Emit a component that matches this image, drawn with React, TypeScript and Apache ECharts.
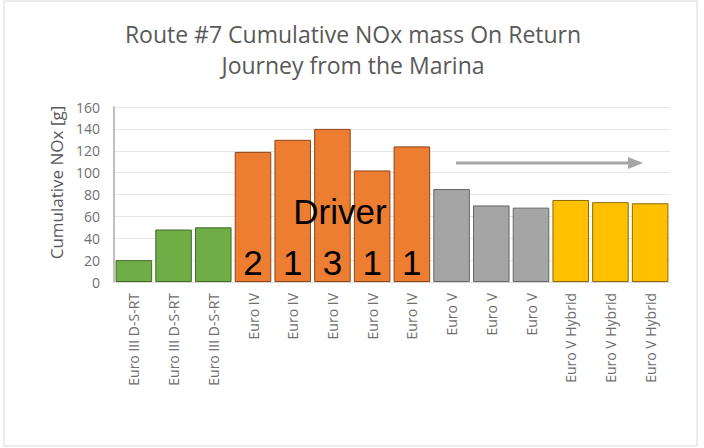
import React, { useEffect, useRef } from "react";
import * as echarts from "echarts";

const categories = [
  "Euro III D-S-RT", "Euro III D-S-RT", "Euro III D-S-RT",
  "Euro IV", "Euro IV", "Euro IV", "Euro IV", "Euro IV",
  "Euro V", "Euro V", "Euro V",
  "Euro V Hybrid", "Euro V Hybrid", "Euro V Hybrid",
];
const values = [20, 48, 50, 119, 130, 140, 102, 124, 85, 70, 68, 75, 73, 72];
const drivers = ["", "", "", "2", "1", "3", "1", "1", "", "", "", "", "", ""];
const yTicks = [0, 20, 40, 60, 80, 100, 120, 140, 160];
const titleLines = ["Route #7 Cumulative NOx mass On Return", "Journey from the Marina"];
const yAxisName = "Cumulative NOx [g]";
const annotation = "Driver";

const fills: Record<string, string> = {
  "Euro III D-S-RT": "#70ad47",
  "Euro IV": "#ed7d31",
  "Euro V": "#a5a5a5",
  "Euro V Hybrid": "#ffc000",
};
const borders: Record<string, string> = {
  "Euro III D-S-RT": "#3f6b27",
  "Euro IV": "#8a4418",
  "Euro V": "#666666",
  "Euro V Hybrid": "#8a6a00",
};

export default function App() {
  const ref = useRef<HTMLDivElement>(null);
  useEffect(() => {
    if (!ref.current) return;
    const chart = echarts.init(ref.current, undefined, { renderer: "svg" });
    const font = "Open Sans";
    chart.setOption({
      animation: false,
      backgroundColor: "#ffffff",
      title: {
        text: titleLines.join("\n"),
        left: 348,
        textAlign: "center",
        top: 13,
        textStyle: {
          fontFamily: font,
          fontSize: 23,
          fontWeight: "normal",
          color: "#595959",
          lineHeight: 31,
        },
      },
      grid: { left: 114, right: 34, top: 107, bottom: 166 },
      xAxis: {
        type: "category",
        data: categories,
        axisTick: { show: false },
        axisLine: { lineStyle: { color: "#d9d9d9" } },
        axisLabel: {
          rotate: 90,
          interval: 0,
          fontFamily: font,
          fontSize: 14,
          color: "#6f6f6f",
          margin: 11,
        },
      },
      yAxis: {
        type: "value",
        min: yTicks[0],
        max: yTicks[yTicks.length - 1],
        interval: 20,
        name: yAxisName,
        nameLocation: "middle",
        nameGap: 47,
        nameTextStyle: { fontFamily: font, fontSize: 17, color: "#595959", padding: [0, 0, 0, 24] },
        axisLine: { show: true, lineStyle: { color: "#bfbfbf", width: 2 } },
        axisTick: { show: false },
        axisLabel: { fontFamily: font, fontSize: 14, color: "#6f6f6f", margin: 14 },
        splitLine: { lineStyle: { color: "#e6e6e6" } },
      },
      series: [
        {
          type: "bar",
          barCategoryGap: "8%",
          data: values.map((v, i) => ({
            value: v,
            itemStyle: {
              color: fills[categories[i]],
              borderColor: borders[categories[i]],
              borderWidth: 1,
            },
          })),
          label: {
            show: true,
            position: "insideBottom",
            distance: 2,
            formatter: (p: any) => drivers[p.dataIndex],
            fontFamily: "Liberation Sans",
            fontSize: 35,
            color: "#000000",
          },
        },
      ],
      graphic: [
        {
          type: "rect",
          z: 100,
          shape: { x: 4, y: 1, width: 693, height: 445 },
          style: { fill: "none", stroke: "#d9d9d9", lineWidth: 1 },
          silent: true,
        },
        {
          type: "text",
          z: 100,
          x: 340,
          y: 211,
          style: {
            text: annotation,
            fontFamily: "Liberation Sans",
            fontSize: 35,
            fill: "#000000",
            align: "center",
            verticalAlign: "middle",
          },
        },
        {
          type: "line",
          z: 100,
          shape: { x1: 456, y1: 163, x2: 630, y2: 163 },
          style: { stroke: "#a6a6a6", lineWidth: 3 },
        },
        {
          type: "polygon",
          z: 100,
          shape: { points: [[628, 157], [643, 163], [628, 169]] },
          style: { fill: "#a6a6a6" },
        },
      ],
    });
    return () => chart.dispose();
  }, []);
  return (
    <div
      ref={ref}
      style={{ position: "absolute", left: 0, top: 0, width: 704, height: 448 }}
    />
  );
}
